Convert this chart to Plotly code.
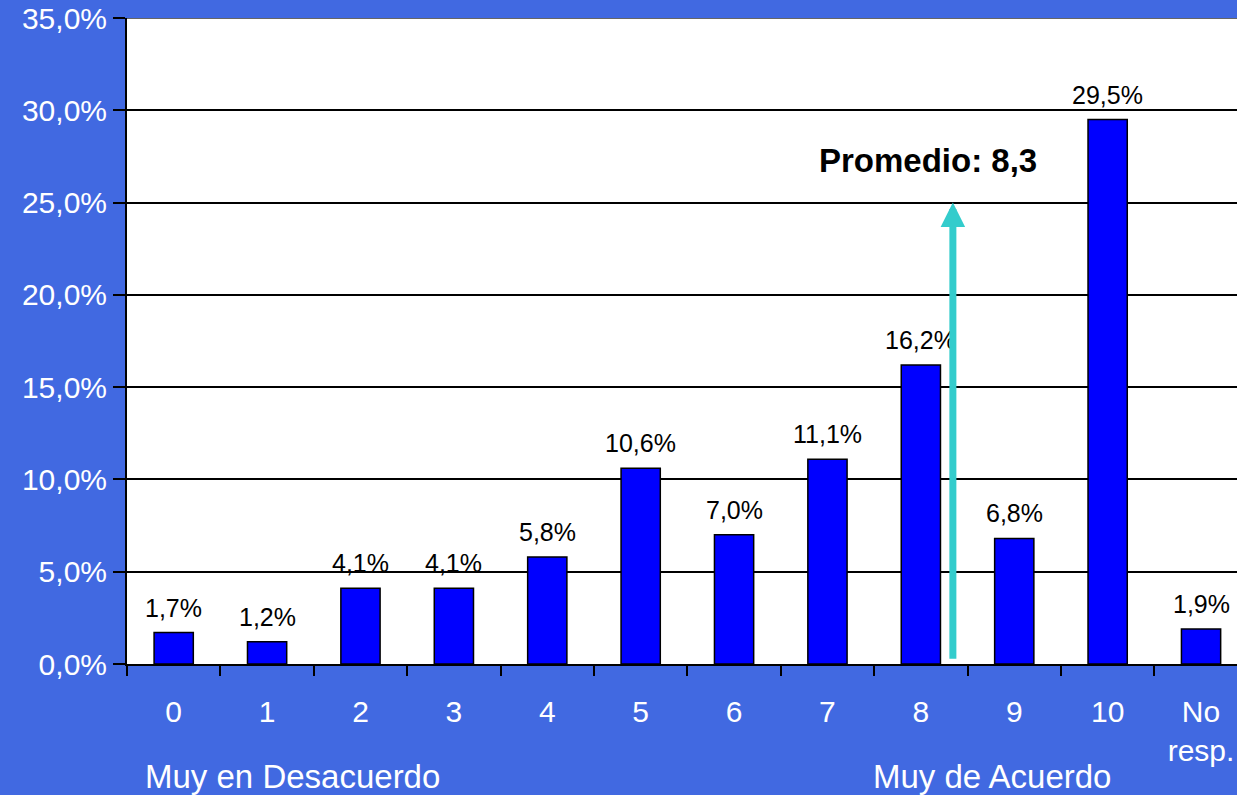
import plotly.graph_objects as go

# valores
categorias = ["0", "1", "2", "3", "4", "5", "6", "7", "8", "9", "10", "No<br>resp."]
porcentajes = [1.7, 1.2, 4.1, 4.1, 5.8, 10.6, 7.0, 11.1, 16.2, 6.8, 29.5, 1.9]
promedio = 8.3
y_ticks = [0, 5, 10, 15, 20, 25, 30, 35]

FONDO = "#4169E1"
FUENTE = "Liberation Sans, Arial, sans-serif"

W, H = 1237, 795
ml, mt, mb = 127, 18, 131


def px_a_papel_x(px):
    return (px - ml) / (W - ml)


def px_a_papel_y(py):
    return (H - mb - py) / (H - mt - mb)


fig = go.Figure()

fig.add_trace(go.Bar(
    x=list(range(len(categorias))),
    y=porcentajes,
    width=0.42,
    marker=dict(color="#0000FF", line=dict(color="black", width=1.5)),
    hoverinfo="x+y",
))

# etiquetas de valor sobre cada barra
for i, v in enumerate(porcentajes):
    fig.add_annotation(
        x=i, y=v, xref="x", yref="y",
        text=f"{v:.1f}%".replace(".", ","),
        showarrow=False, yanchor="bottom", yshift=9,
        font=dict(size=25, color="black", family=FUENTE),
    )

# flecha del promedio
fig.add_annotation(
    x=promedio, y=25, ax=promedio, ay=0.2,
    xref="x", yref="y", axref="x", ayref="y",
    text="", showarrow=True, xshift=4,
    arrowhead=2, arrowsize=0.7, arrowwidth=7, arrowcolor="#33CCCC",
)
fig.add_annotation(
    x=8.08, y=27.3, xref="x", yref="y",
    text="<b>Promedio: 8,3</b>", showarrow=False,
    font=dict(size=33, color="black", family=FUENTE),
)

fig.add_annotation(
    x=px_a_papel_x(292), y=px_a_papel_y(776), xref="paper", yref="paper",
    xanchor="center", yanchor="middle",
    text="Muy en Desacuerdo", showarrow=False,
    font=dict(size=33, color="white", family=FUENTE),
)
fig.add_annotation(
    x=px_a_papel_x(992), y=px_a_papel_y(776), xref="paper", yref="paper",
    xanchor="center", yanchor="middle",
    text="Muy de Acuerdo", showarrow=False,
    font=dict(size=33, color="white", family=FUENTE),
)

# línea superior del área de trazado
fig.add_shape(type="line", xref="paper", yref="y", x0=0, x1=1, y0=35, y1=35,
              line=dict(color="#666666", width=2))

fig.update_layout(
    width=W, height=H,
    margin=dict(l=ml, r=0, t=mt, b=mb),
    paper_bgcolor=FONDO,
    plot_bgcolor="white",
    showlegend=False,
    font=dict(family=FUENTE),
)

fig.update_xaxes(
    range=[-0.5, 11.385],
    tickvals=list(range(len(categorias))),
    ticktext=categorias,
    showgrid=False,
    showline=True, linecolor="black", linewidth=2,
    ticks="", tickfont=dict(size=30, color="white"),
    ticklabelstandoff=20,
    minor=dict(tickvals=[i - 0.5 for i in range(len(categorias) + 1)],
               ticks="outside", ticklen=10, tickcolor="black", tickwidth=2),
    zeroline=False,
)
fig.update_yaxes(
    range=[0, 35],
    tickvals=y_ticks,
    ticktext=[f"{t:.1f}%".replace(".", ",") for t in y_ticks],
    showgrid=True, gridcolor="black", gridwidth=1.5,
    showline=True, linecolor="black", linewidth=2,
    ticks="outside", ticklen=12, tickcolor="black", tickwidth=2,
    tickfont=dict(size=30, color="white"),
    ticklabelstandoff=0,
    zeroline=False,
)

fig.write_html(
    "out.html",
    config={"displayModeBar": False},
    post_script="document.body.style.margin='0px';document.body.style.overflow='hidden';",
)
